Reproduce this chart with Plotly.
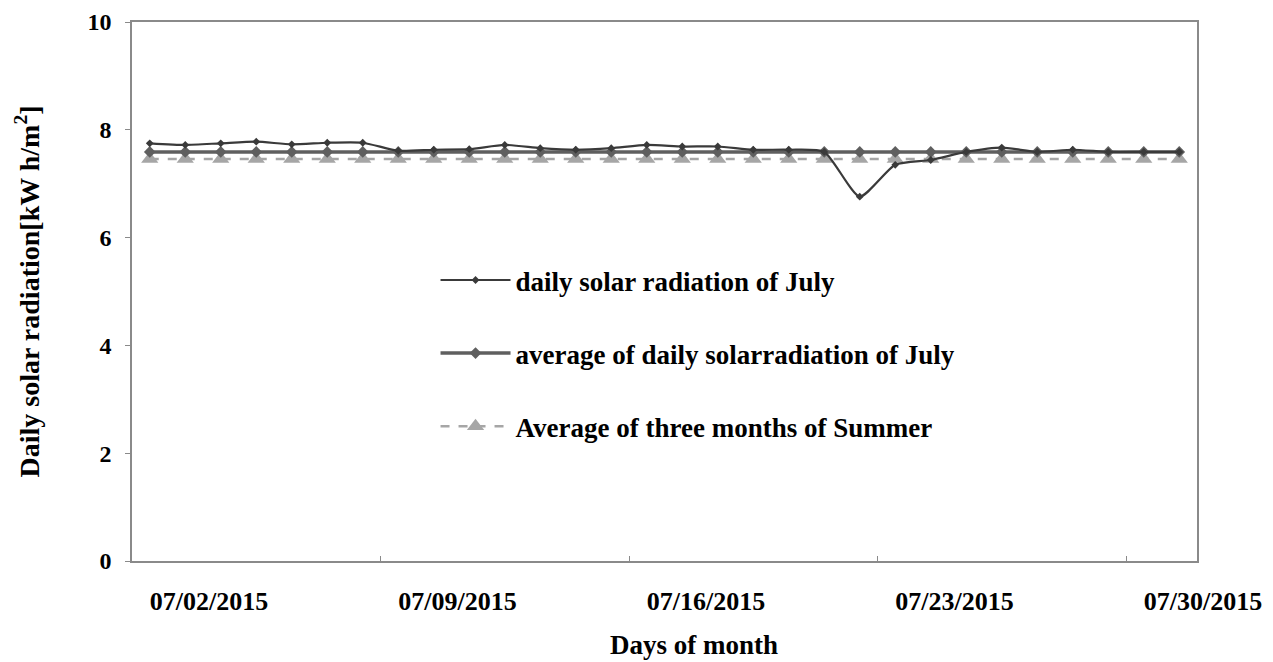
import plotly.graph_objects as go

days = list(range(1, 31))
daily_july = [7.75, 7.72, 7.75, 7.78, 7.73, 7.76, 7.76, 7.61, 7.63, 7.64,
              7.72, 7.66, 7.63, 7.66, 7.72, 7.69, 7.69, 7.63, 7.63, 7.59,
              6.76, 7.35, 7.44, 7.59, 7.67, 7.59, 7.63, 7.59, 7.59, 7.59]
avg_july = [7.59] * 30
avg_summer = [7.46] * 30

tick_positions = [0.5, 7.5, 14.5, 21.5, 28.5]
tick_labels = ["07/02/2015", "07/09/2015", "07/16/2015", "07/23/2015", "07/30/2015"]
y_ticks = [0, 2, 4, 6, 8, 10]

FONT = "Liberation Serif"
AXIS_COLOR = "#8a8a8a"

fig = go.Figure()
fig.add_trace(go.Scatter(
    x=days, y=avg_summer, name="Average of three months of Summer",
    mode="lines+markers", legendgroup="c", legendrank=3,
    line=dict(color="#a6a6a6", width=2.5, dash="dash"),
    marker=dict(symbol="triangle-up", size=15, color="#a6a6a6"),
))
fig.add_trace(go.Scatter(
    x=days, y=avg_july, name="average of daily solarradiation of July",
    mode="lines+markers", legendgroup="b", legendrank=2,
    line=dict(color="#5f5f5f", width=3.5),
    marker=dict(symbol="diamond", size=9, color="#5f5f5f"),
))
fig.add_trace(go.Scatter(
    x=days, y=daily_july, name="daily solar radiation of July",
    mode="lines+markers", legendgroup="a", legendrank=1,
    line=dict(color="#3a3a3a", width=2.2, shape="spline", smoothing=0.6),
    marker=dict(symbol="diamond", size=6, color="#3a3a3a"),
))

# page body has an 8px margin, so the figure is offset by 8px
fig.update_layout(
    width=1265, height=654,
    margin=dict(l=124, r=76, t=14, b=101, autoexpand=False),
    paper_bgcolor="white", plot_bgcolor="white",
    font=dict(family=FONT, color="black", weight="bold"),
    legend=dict(
        x=0.285, y=0.566, xanchor="left", yanchor="top",
        font=dict(family=FONT, size=27, color="black", weight="bold"),
        bgcolor="rgba(0,0,0,0)", tracegroupgap=35, itemwidth=70,
        traceorder="grouped",
    ),
    xaxis=dict(
        range=[0.5, 30.5], tickmode="array", tickvals=tick_positions,
        ticktext=tick_labels, ticks="inside", ticklen=5, tickcolor=AXIS_COLOR,
        ticklabelshift=77, ticklabelstandoff=16, automargin=False,
        tickfont=dict(family=FONT, size=26, color="black", weight="bold"),
        showline=True, linecolor=AXIS_COLOR, linewidth=1.5, mirror=True,
        showgrid=False, zeroline=False,
    ),
    yaxis=dict(
        range=[0, 10], tickmode="array", tickvals=y_ticks,
        ticks="outside", ticklen=5, tickcolor=AXIS_COLOR,
        ticklabelstandoff=9, automargin=False,
        tickfont=dict(family=FONT, size=24, color="black", weight="bold"),
        showline=True, linecolor=AXIS_COLOR, linewidth=1.5, mirror=True,
        showgrid=False, zeroline=False,
        title=dict(text="Daily solar radiation[kW h/m<sup>2</sup>]", standoff=40,
                   font=dict(family=FONT, size=28, color="black", weight="bold")),
    ),
    annotations=[dict(
        text="Days of month", xref="paper", yref="paper",
        x=(694 - 132) / 1065, y=-(645 - 561) / 539,
        xanchor="center", yanchor="middle", showarrow=False,
        font=dict(family=FONT, size=27, color="black", weight="bold"),
    )],
)

fig.write_html("out.html")
